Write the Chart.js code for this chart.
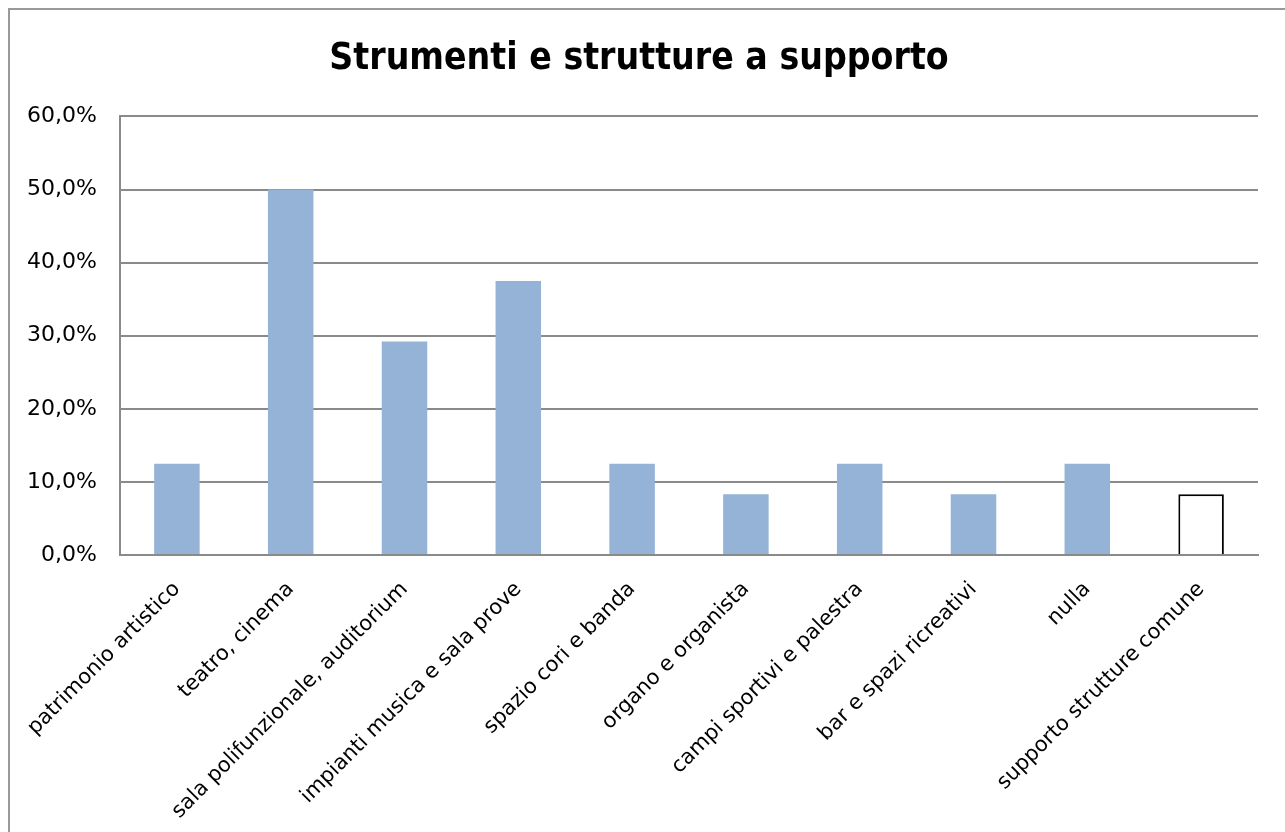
<!DOCTYPE html>
<html>
<head>
<meta charset="utf-8">
<script src="https://cdn.jsdelivr.net/npm/chart.js@4.4.0/dist/chart.umd.min.js"></script>
<style>
  html, body { margin: 0; padding: 0; background: #fff; overflow: hidden; }
  #wrap { position: absolute; left: 0; top: 0; width: 1285px; height: 832px; }
</style>
</head>
<body>
<div id="wrap"><canvas id="myChart"></canvas></div>
<script>
const categories = [
  'patrimonio artistico',
  'teatro, cinema',
  'sala polifunzionale, auditorium',
  'impianti musica e sala prove',
  'spazio cori e banda',
  'organo e organista',
  'campi sportivi e palestra',
  'bar e spazi ricreativi',
  'nulla',
  'supporto strutture comune'
];
const percentages = [12.5, 50.0, 29.2, 37.5, 12.5, 8.3, 12.5, 8.3, 12.5, 8.3];
const yTicks = [0, 10, 20, 30, 40, 50, 60];
const chartTitle = 'Strumenti e strutture a supporto';

const blue = '#95b3d7';
const grey = '#8a8a8a';
const labelFont = "'DejaVu Sans', sans-serif";

// last bar is drawn empty with a black outline
const fills = percentages.map((v, i) => i === percentages.length - 1 ? '#ffffff' : blue);
const borders = percentages.map((v, i) => i === percentages.length - 1 ? '#000000' : blue);
const borderWidths = percentages.map((v, i) => i === percentages.length - 1 ? 2 : 0);

const frame = {
  id: 'frame',
  beforeDraw(chart) {
    const c = chart.ctx;
    c.save();
    c.fillStyle = '#fff';
    c.fillRect(0, 0, chart.width, chart.height);
    c.strokeStyle = '#999';
    c.lineWidth = 2;
    c.beginPath();
    c.moveTo(9, chart.height + 10);
    c.lineTo(9, 9);
    c.lineTo(chart.width + 10, 9);
    c.stroke();
    c.restore();
  }
};

const ctx = document.getElementById('myChart');

new Chart(ctx, {
  type: 'bar',
  data: {
    labels: categories,
    datasets: [{
      data: percentages,
      backgroundColor: fills,
      borderColor: borders,
      borderWidth: borderWidths,
      borderSkipped: 'bottom',
      categoryPercentage: 1,
      barPercentage: 0.4
    }]
  },
  options: {
    responsive: true,
    maintainAspectRatio: false,
    animation: false,
    layout: { padding: { left: 20, right: 27, top: 0, bottom: 0 } },
    plugins: {
      legend: { display: false },
      tooltip: { enabled: false },
      title: {
        display: true,
        text: chartTitle,
        color: '#000',
        font: { family: "'DejaVu Sans Condensed', 'DejaVu Sans', sans-serif", size: 37, weight: 'bold' },
        padding: { top: 37, bottom: 35 }
      }
    },
    scales: {
      x: {
        grid: { display: false, drawTicks: false },
        border: { color: grey, width: 2 },
        ticks: {
          color: '#000',
          font: { family: labelFont, size: 21 },
          minRotation: 45,
          maxRotation: 45,
          autoSkip: false,
          padding: 22
        },
        afterFit(scale) { scale.height = 277; }
      },
      y: {
        min: 0,
        max: 60,
        afterBuildTicks(scale) { scale.ticks = yTicks.map(v => ({ value: v })); },
        grid: { color: grey, lineWidth: 2, drawTicks: false },
        border: { color: grey, width: 2 },
        ticks: {
          color: '#000',
          font: { family: labelFont, size: 22 },
          padding: 23,
          callback: v => v.toFixed(1).replace('.', ',') + '%'
        },
        afterFit(scale) { scale.width = 100; }
      }
    }
  },
  plugins: [frame]
});
</script>
</body>
</html>
